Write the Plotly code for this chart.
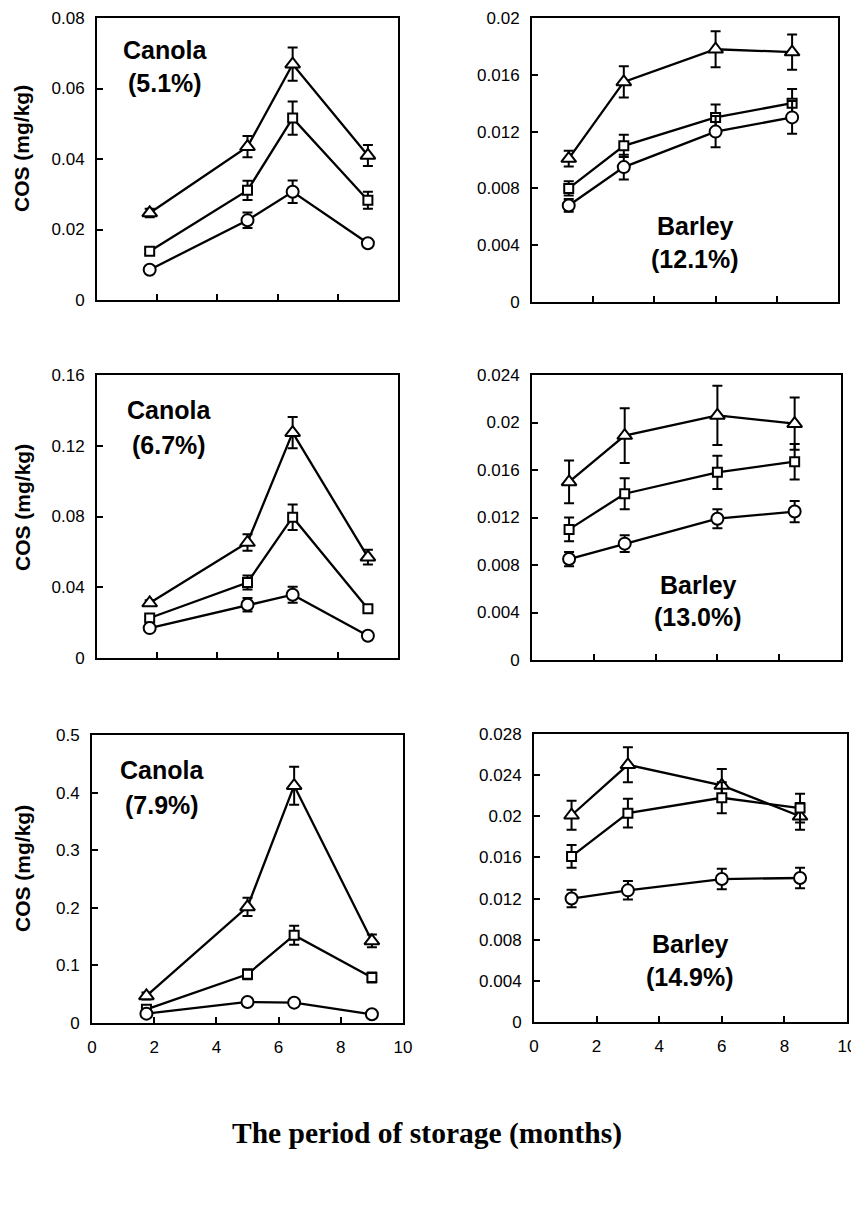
import plotly.graph_objects as go

# ---------------- data ----------------
canola_x = [1.75, 5, 6.5, 9]
barley_x = [1.2, 3, 6, 8.5]

# Canola 5.1%
c51_tri = [0.0247, 0.0435, 0.0669, 0.0410]
c51_tri_err = [0.0012, 0.0030, 0.0047, 0.0030]
c51_sq = [0.0138, 0.0311, 0.0516, 0.0283]
c51_sq_err = [0.0008, 0.0027, 0.0047, 0.0024]
c51_circ = [0.0086, 0.0226, 0.0307, 0.0161]
c51_circ_err = [0.0005, 0.0022, 0.0032, 0.0010]

# Barley 12.1%
b121_tri = [0.0101, 0.0155, 0.0178, 0.0176]
b121_tri_err = [0.00055, 0.0011, 0.00127, 0.00124]
b121_sq = [0.0080, 0.0110, 0.0130, 0.0140]
b121_sq_err = [0.0005, 0.00078, 0.0009, 0.0010]
b121_circ = [0.0068, 0.0095, 0.0120, 0.0130]
b121_circ_err = [0.00045, 0.00087, 0.0011, 0.00115]

# Canola 6.7%
c67_tri = [0.0311, 0.0653, 0.1274, 0.0570]
c67_tri_err = [0.0015, 0.0047, 0.0088, 0.0042]
c67_sq = [0.0226, 0.0427, 0.0796, 0.0279]
c67_sq_err = [0.0010, 0.0040, 0.0072, 0.0015]
c67_circ = [0.0169, 0.0301, 0.0358, 0.0126]
c67_circ_err = [0.0010, 0.0038, 0.0045, 0.0010]

# Barley 13.0%
b130_tri = [0.0150, 0.0189, 0.0206, 0.0199]
b130_tri_err = [0.0018, 0.0023, 0.0025, 0.0022]
b130_sq = [0.0110, 0.0140, 0.0158, 0.0167]
b130_sq_err = [0.0010, 0.0013, 0.0014, 0.0015]
b130_circ = [0.0085, 0.0098, 0.0119, 0.0125]
b130_circ_err = [0.0006, 0.0007, 0.0008, 0.0009]

# Canola 7.9%
c79_tri = [0.047, 0.2016, 0.412, 0.1425]
c79_tri_err = [0.006, 0.016, 0.033, 0.011]
c79_sq = [0.0238, 0.0846, 0.1524, 0.0788]
c79_sq_err = [0.003, 0.0087, 0.0165, 0.0087]
c79_circ = [0.0162, 0.0365, 0.0353, 0.0151]
c79_circ_err = [0.003, 0.003, 0.003, 0.003]

# Barley 14.9%
b149_tri = [0.0201, 0.0250, 0.0230, 0.0200]
b149_tri_err = [0.0014, 0.0017, 0.0016, 0.0013]
b149_sq = [0.0161, 0.0203, 0.0218, 0.0208]
b149_sq_err = [0.0011, 0.0014, 0.0015, 0.0014]
b149_circ = [0.0120, 0.0128, 0.0139, 0.0140]
b149_circ_err = [0.00085, 0.0009, 0.0010, 0.0010]

# tick labels
x_ticks = [0, 2, 4, 6, 8, 10]
x_ticklabels = ["0", "2", "4", "6", "8", "10"]
y1_ticks = [0, 0.02, 0.04, 0.06, 0.08]
y1_labels = ["0", "0.02", "0.04", "0.06", "0.08"]
y2_ticks = [0, 0.004, 0.008, 0.012, 0.016, 0.02]
y2_labels = ["0", "0.004", "0.008", "0.012", "0.016", "0.02"]
y3_ticks = [0, 0.04, 0.08, 0.12, 0.16]
y3_labels = ["0", "0.04", "0.08", "0.12", "0.16"]
y4_ticks = [0, 0.004, 0.008, 0.012, 0.016, 0.02, 0.024]
y4_labels = ["0", "0.004", "0.008", "0.012", "0.016", "0.02", "0.024"]
y5_ticks = [0, 0.1, 0.2, 0.3, 0.4, 0.5]
y5_labels = ["0", "0.1", "0.2", "0.3", "0.4", "0.5"]
y6_ticks = [0, 0.004, 0.008, 0.012, 0.016, 0.02, 0.024, 0.028]
y6_labels = ["0", "0.004", "0.008", "0.012", "0.016", "0.02", "0.024", "0.028"]

panel_titles = [("Canola", "(5.1%)"), ("Barley", "(12.1%)"),
                ("Canola", "(6.7%)"), ("Barley", "(13.0%)"),
                ("Canola", "(7.9%)"), ("Barley", "(14.9%)")]
y_title = "COS (mg/kg)"
x_title = "The period of storage (months)"

# ---------------- layout helpers ----------------
# The page body has an 8px margin; the figure is shrunk so no scrollbars
# appear, and every page-pixel position is shifted by 8px.
OFF = 8
W, H = 859 - OFF, 1217 - 2 * OFF
def px(x):
    return (x - OFF) / W
def py(y):
    return 1 - (y - OFF) / H

SANS = "Liberation Sans, Arial, sans-serif"
SERIF = "Liberation Serif, Times New Roman, serif"

panels = [
    dict(x=canola_x, series=[(c51_tri, c51_tri_err), (c51_sq, c51_sq_err), (c51_circ, c51_circ_err)],
         box=(97, 398, 18, 300), yr=0.08, yt=y1_ticks, yl=y1_labels, xlab=False,
         text=(165, 50, 83)),
    dict(x=barley_x, series=[(b121_tri, b121_tri_err), (b121_sq, b121_sq_err), (b121_circ, b121_circ_err)],
         box=(532, 838, 18, 302), yr=0.02, yt=y2_ticks, yl=y2_labels, xlab=False,
         text=(695, 226, 259)),
    dict(x=canola_x, series=[(c67_tri, c67_tri_err), (c67_sq, c67_sq_err), (c67_circ, c67_circ_err)],
         box=(97, 398, 375, 658), yr=0.16, yt=y3_ticks, yl=y3_labels, xlab=False,
         text=(169, 410, 445)),
    dict(x=barley_x, series=[(b130_tri, b130_tri_err), (b130_sq, b130_sq_err), (b130_circ, b130_circ_err)],
         box=(532, 841, 375, 660), yr=0.024, yt=y4_ticks, yl=y4_labels, xlab=False,
         text=(698, 585, 617)),
    dict(x=canola_x, series=[(c79_tri, c79_tri_err), (c79_sq, c79_sq_err), (c79_circ, c79_circ_err)],
         box=(92, 403, 735, 1023), yr=0.5, yt=y5_ticks, yl=y5_labels, xlab=True,
         text=(162, 770, 805)),
    dict(x=barley_x, series=[(b149_tri, b149_tri_err), (b149_sq, b149_sq_err), (b149_circ, b149_circ_err)],
         box=(534, 847, 734, 1022), yr=0.028, yt=y6_ticks, yl=y6_labels, xlab=True,
         text=(690, 944, 977)),
]

marker_styles = [
    dict(symbol="triangle-up", size=13),
    dict(symbol="square", size=9),
    dict(symbol="circle", size=12),
]

fig = go.Figure()
layout = dict(template="none", width=W, height=H, margin=dict(l=0, r=0, t=0, b=0),
              paper_bgcolor="white", plot_bgcolor="white", showlegend=False,
              font=dict(family=SANS, color="black"))
annotations = []

for i, p in enumerate(panels, start=1):
    xa = "x" if i == 1 else f"x{i}"
    ya = "y" if i == 1 else f"y{i}"
    for (vals, errs), ms in zip(p["series"], marker_styles):
        fig.add_trace(go.Scatter(
            x=p["x"], y=vals, xaxis=xa, yaxis=ya, mode="lines+markers",
            line=dict(color="black", width=2.3),
            marker=dict(symbol=ms["symbol"], size=ms["size"], color="white",
                        line=dict(color="black", width=2)),
            error_y=dict(type="data", array=errs, visible=True, color="black",
                         thickness=2, width=5),
            cliponaxis=False,
        ))
    x0, x1, y0, y1 = p["box"]
    layout["xaxis" if i == 1 else f"xaxis{i}"] = dict(
        domain=[px(x0), px(x1)], anchor=ya, range=[0, 10], automargin=False,
        tickvals=x_ticks[1:-1] if not p["xlab"] else x_ticks,
        ticktext=x_ticklabels[1:-1] if not p["xlab"] else x_ticklabels,
        showticklabels=p["xlab"], ticks="inside", ticklen=6, tickwidth=2,
        tickcolor="black", showline=True, linecolor="black", linewidth=2,
        mirror=True, showgrid=False, zeroline=False, ticklabeloverflow="allow",
        tickfont=dict(size=17, family=SANS), ticklabelstandoff=8,
    )
    layout["yaxis" if i == 1 else f"yaxis{i}"] = dict(
        domain=[py(y1), py(y0)], anchor=xa, range=[0, p["yr"]], automargin=False,
        tickvals=p["yt"], ticktext=p["yl"], ticks="inside", ticklen=6,
        tickwidth=2, tickcolor="black", showline=True, linecolor="black",
        linewidth=2, mirror=True, showgrid=False, zeroline=False,
        ticklabeloverflow="allow",
        tickfont=dict(size=17, family=SANS), ticklabelstandoff=7,
    )
    tx, ty1, ty2 = p["text"]
    name, pct = panel_titles[i - 1]
    annotations.append(dict(x=px(tx), y=py(ty1), xref="paper", yref="paper",
                            text=f"<b>{name}</b>", showarrow=False,
                            font=dict(size=25, family=SANS), xanchor="center", yanchor="middle"))
    annotations.append(dict(x=px(tx), y=py(ty2), xref="paper", yref="paper",
                            text=f"<b>{pct}</b>", showarrow=False,
                            font=dict(size=25, family=SANS), xanchor="center", yanchor="middle"))

# y-axis titles for left column
for yc in [149, 508, 869]:
    annotations.append(dict(x=px(22), y=py(yc), xref="paper", yref="paper",
                            text=f"<b>{y_title}</b>", showarrow=False, textangle=-90,
                            font=dict(size=21, family=SANS), xanchor="center", yanchor="middle"))

annotations.append(dict(x=px(427), y=py(1133), xref="paper", yref="paper",
                        text=f"<b>{x_title}</b>", showarrow=False,
                        font=dict(size=29.5, family=SERIF), xanchor="center", yanchor="middle"))

layout["annotations"] = annotations
fig.update_layout(**layout)
fig.write_html("out.html")
